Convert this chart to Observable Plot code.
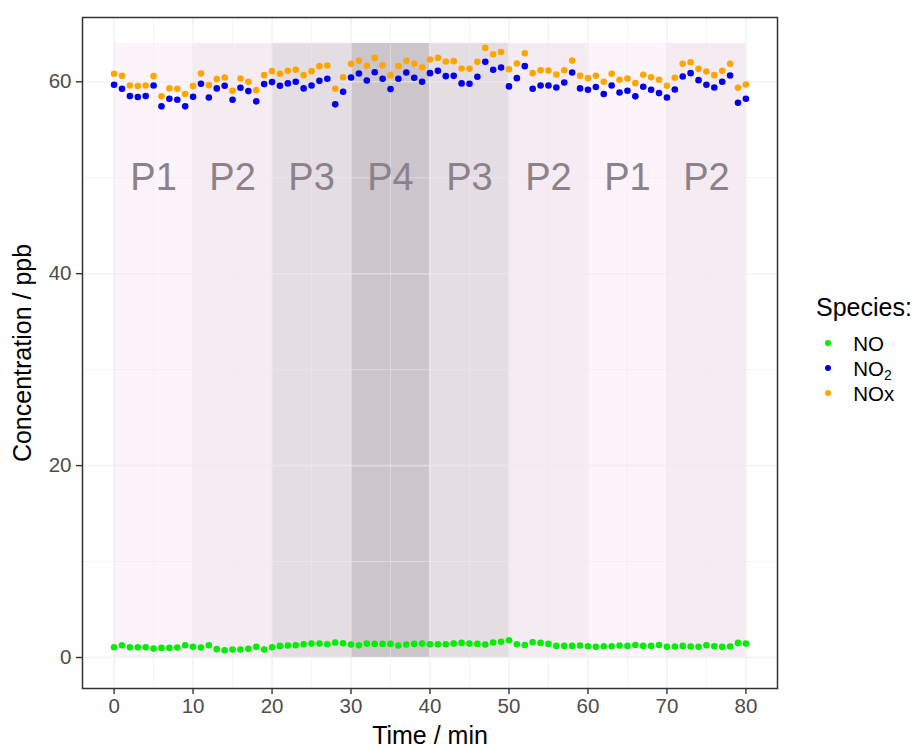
<!DOCTYPE html>
<html>
<head>
<meta charset="utf-8">
<script src="https://cdn.jsdelivr.net/npm/d3@7"></script>
<script src="https://cdn.jsdelivr.net/npm/@observablehq/plot@0.6"></script>
<style>
  body { margin: 0; background: #fff; font-family: "Liberation Sans", Arial, sans-serif; }
  #chart { position: relative; width: 917px; height: 749px; }
  .leg-title { position: absolute; left: 816px; top: 295px; font-size: 25px; line-height: 25px; color: #000; white-space: nowrap; }
  .leg-row { position: absolute; left: 822px; height: 25px; display: flex; align-items: center; font-size: 20.5px; line-height: 25px; color: #000; white-space: nowrap; }
  .leg-dot { width: 6.4px; height: 6.4px; border-radius: 50%; margin-left: 2.8px; margin-right: 22px; }
  .leg-row sub { font-size: 14px; line-height: 0; vertical-align: -4px; }
</style>
</head>
<body>
<div id="chart"></div>
<script>
// ---- data ----
const minutes = d3.range(0, 81);
const NO = [1.07,1.28,1.07,1.07,1.07,0.93,1.00,1.00,1.04,1.28,
            1.11,1.04,1.28,0.87,0.76,0.83,0.83,0.90,1.11,0.83,
            1.07,1.21,1.25,1.28,1.38,1.45,1.45,1.38,1.56,1.49,
            1.35,1.28,1.45,1.42,1.42,1.42,1.25,1.35,1.42,1.45,
            1.38,1.38,1.38,1.45,1.52,1.45,1.42,1.35,1.56,1.63,
            1.80,1.38,1.31,1.59,1.52,1.42,1.21,1.21,1.21,1.25,
            1.18,1.11,1.18,1.18,1.25,1.21,1.31,1.21,1.21,1.31,
            1.11,1.14,1.21,1.14,1.11,1.28,1.18,1.11,1.14,1.52,
            1.45];
const NO2 = [59.69,59.27,58.51,58.41,58.51,59.62,57.44,58.24,58.13,57.44,
             58.44,59.79,58.37,59.31,59.58,58.13,59.38,59.03,57.96,59.76,
             59.97,59.58,59.83,60.00,59.31,59.62,60.10,60.31,57.65,58.96,
             60.45,60.87,60.14,61.00,60.31,59.24,60.31,60.97,60.42,60.00,
             60.90,61.14,60.59,60.62,59.83,59.79,60.52,62.08,61.25,61.49,
             59.52,60.38,61.63,59.27,59.62,59.62,59.41,59.93,60.97,59.31,
             59.17,59.45,58.72,59.62,58.89,59.07,58.48,59.48,59.17,58.82,
             58.37,59.20,60.55,60.90,60.17,59.69,59.41,60.00,60.66,57.82,
             58.24];
const NOx = [60.83,60.62,59.62,59.55,59.62,60.59,58.48,59.31,59.27,58.72,
             59.55,60.87,59.65,60.28,60.45,59.07,60.35,60.00,59.13,60.69,
             61.11,60.83,61.14,61.25,60.69,61.11,61.63,61.70,59.27,60.48,
             61.87,62.18,61.66,62.49,61.73,60.69,61.63,62.18,61.87,61.52,
             62.32,62.49,62.11,62.15,61.38,61.35,62.08,63.53,62.87,63.11,
             61.31,61.90,62.98,60.90,61.21,61.18,60.76,61.21,62.21,60.62,
             60.38,60.62,60.00,60.83,60.21,60.35,59.86,60.73,60.48,60.21,
             59.58,60.42,61.87,62.04,61.35,61.07,60.69,61.14,61.87,59.38,
             59.72];
const speciesNames = ["NO", "NO2", "NOx"];
const speciesLabelsHtml = ["NO", "NO<sub>2</sub>", "NOx"];
const speciesValues = [NO, NO2, NOx];
const periodLabels = ["P1", "P2", "P3", "P4", "P3", "P2", "P1", "P2"];
const periodStart = [0, 10, 20, 30, 40, 50, 60, 70];
const periodEnd = [10, 20, 30, 40, 50, 60, 70, 80];
const shadeBottom = 0, shadeTop = 64, periodLabelY = 50;
const xTicks = [0, 10, 20, 30, 40, 50, 60, 70, 80];
const xMinor = [5, 15, 25, 35, 45, 55, 65, 75];
const yTicks = [0, 20, 40, 60];
const yMinor = [10, 30, 50];

// ---- styles ----
const speciesColors = {NO: "#00ee00", NO2: "#0000ee", NOx: "#ffa500"};
const periodFill = {P1: "#fcf3fb", P2: "#f5ebf3", P3: "#e5dde4", P4: "#cdc5cc"};

const points = [];
speciesNames.forEach((s, i) => {
  speciesValues[i].forEach((v, j) => points.push({t: minutes[j], v, species: s}));
});
const periods = periodLabels.map((p, i) => ({label: p, start: periodStart[i], end: periodEnd[i]}));

const font = '"Liberation Sans", Arial, sans-serif';
const chart = Plot.plot({
  width: 917,
  height: 749,
  marginLeft: 82,
  marginRight: 140,
  marginTop: 17,
  marginBottom: 61,
  style: {fontFamily: font, background: "#fff", overflow: "visible"},
  x: {domain: [-4, 84]},
  y: {domain: [-3.23, 66.7]},
  color: {type: "identity"},
  marks: [
    Plot.rect(periods, {x1: "start", x2: "end", y1: shadeBottom, y2: shadeTop, fill: d => periodFill[d.label]}),
    Plot.gridX(xMinor, {stroke: "#ebebeb", strokeOpacity: 0.6, strokeWidth: 0.9}),
    Plot.gridY(yMinor, {stroke: "#ebebeb", strokeOpacity: 0.6, strokeWidth: 0.9}),
    Plot.gridX(xTicks, {stroke: "#ebebeb", strokeOpacity: 0.6, strokeWidth: 1.6}),
    Plot.gridY(yTicks, {stroke: "#ebebeb", strokeOpacity: 0.6, strokeWidth: 1.6}),
    Plot.text(periods, {x: d => (d.start + d.end) / 2, y: periodLabelY, text: "label", fontSize: 38, fill: "#8b828a"}),
    Plot.dot(points, {x: "t", y: "v", fill: d => speciesColors[d.species], r: 3.3}),
    Plot.frame({stroke: "#333333", strokeWidth: 1.5}),
    Plot.axisX(xTicks, {tickSize: 6, tickPadding: 4, stroke: "#333333", strokeWidth: 1.4, fill: "#4d4d4d", fontSize: 20.5, label: null}),
    Plot.axisY(yTicks, {tickSize: 6, tickPadding: 5, stroke: "#333333", strokeWidth: 1.4, fill: "#4d4d4d", fontSize: 20.5, label: null}),
    Plot.axisX([], {tickSize: 0, label: "Time / min", labelAnchor: "center", labelArrow: "none", labelOffset: 55, fontSize: 25, fill: "#000"}),
    Plot.axisY([], {tickSize: 0, label: "Concentration / ppb", labelAnchor: "center", labelArrow: "none", labelOffset: 69, fontSize: 25, fill: "#000"})
  ]
});
const container = document.getElementById("chart");
container.appendChild(chart);

// legend (HTML, beside the plot)
const title = document.createElement("div");
title.className = "leg-title";
title.textContent = "Species:";
container.appendChild(title);
const rowCenters = [343, 368, 393];
speciesNames.forEach((s, i) => {
  const row = document.createElement("div");
  row.className = "leg-row";
  row.style.top = (rowCenters[i] - 12.5) + "px";
  const dot = document.createElement("span");
  dot.className = "leg-dot";
  dot.style.background = speciesColors[s];
  const lab = document.createElement("span");
  lab.innerHTML = speciesLabelsHtml[i];
  row.appendChild(dot);
  row.appendChild(lab);
  container.appendChild(row);
});
</script>
</body>
</html>
